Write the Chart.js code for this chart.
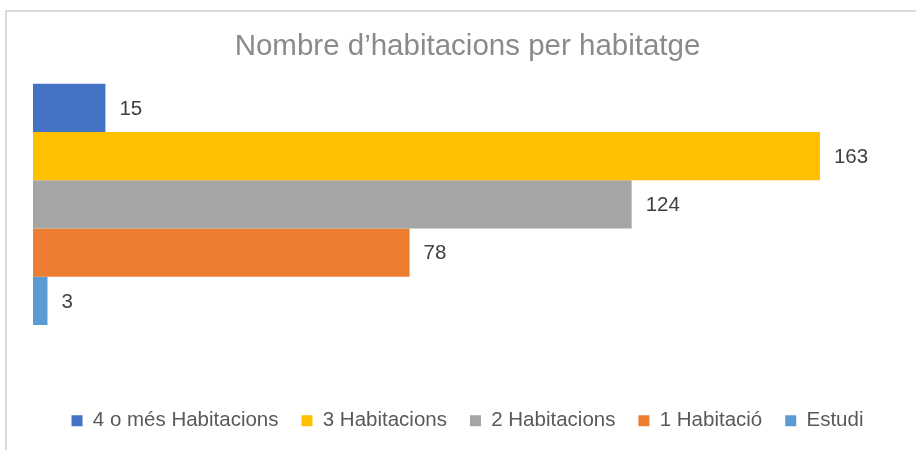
<!DOCTYPE html>
<html>
<head>
<meta charset="utf-8">
<script src="https://cdn.jsdelivr.net/npm/chart.js@4"></script>
<style>
	html, body { margin: 0; padding: 0; background: #fff; overflow: hidden; }
	#wrap { position: relative; width: 916px; height: 450px; }
	#frame { position: absolute; left: 5px; top: 10px; width: 911px; height: 440px;
		border-top: 2px solid #dadada; border-left: 2px solid #dadada; pointer-events: none; }
</style>
</head>
<body>
<div id="wrap">
	<canvas id="roomsChart" width="916" height="450"></canvas>
	<div id="frame"></div>
</div>
<script>
// dades del gràfic
const categoryLabels = ['Habitatges'];
const seriesNames = ['4 o més Habitacions', '3 Habitacions', '2 Habitacions', '1 Habitació', 'Estudi'];
const seriesValues = [15, 163, 124, 78, 3];
const seriesColors = ['#4472c4', '#ffc000', '#a5a5a5', '#ed7d31', '#5b9bd5'];
const axisMax = 180;

const FONT = "'Liberation Sans', Arial, sans-serif";

// etiquetes de valor a la dreta de cada barra
const valueLabels = {
	id: 'valueLabels',
	afterDatasetsDraw(chart) {
		const ctx = chart.ctx;
		ctx.save();
		ctx.font = '20.5px ' + FONT;
		ctx.fillStyle = '#404040';
		ctx.textBaseline = 'middle';
		ctx.textAlign = 'left';
		chart.data.datasets.forEach((ds, i) => {
			const meta = chart.getDatasetMeta(i);
			meta.data.forEach((bar, j) => {
				ctx.fillText(String(ds.data[j]), bar.x + 14, bar.y + 1);
			});
		});
		ctx.restore();
	}
};

const datasets = seriesNames.map((name, i) => ({
	label: name,
	data: [seriesValues[i]],
	backgroundColor: seriesColors[i],
	borderWidth: 0,
	barPercentage: 1,
	categoryPercentage: 0.861
}));

new Chart(document.getElementById('roomsChart'), {
	type: 'bar',
	data: { labels: categoryLabels, datasets: datasets },
	plugins: [valueLabels],
	options: {
		indexAxis: 'y',
		responsive: false,
		animation: false,
		layout: { padding: { left: 33, right: 14, top: 0, bottom: 9 } },
		scales: {
			x: {
				min: 0, max: axisMax,
				grid: { display: false },
				border: { display: false },
				ticks: { display: false },
				afterFit(scale) { scale.height = 43; }
			},
			y: { display: false }
		},
		plugins: {
			title: {
				display: true,
				text: 'Nombre d’habitacions per habitatge',
				color: '#8a8a8a',
				font: { family: FONT, size: 29.5, weight: 'normal' },
				padding: { top: 29, bottom: 0 }
			},
			legend: {
				position: 'bottom',
				labels: {
					color: '#595959',
					font: { family: FONT, size: 20.5 },
					boxWidth: 11,
					boxHeight: 11,
					padding: 23
				}
			},
			tooltip: { enabled: false }
		}
	}
});
</script>
</body>
</html>
